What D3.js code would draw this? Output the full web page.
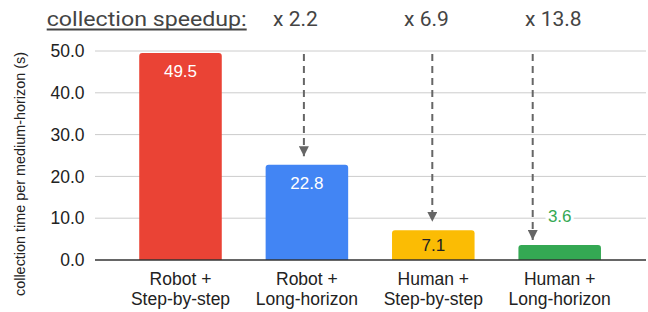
<!DOCTYPE html>
<html>
<head>
<meta charset="utf-8">
<script src="https://cdn.jsdelivr.net/npm/d3@7"></script>
<style>
  body { margin: 0; background: #fff; }
  svg { display: block; font-family: "Liberation Sans", Arial, sans-serif; }
</style>
</head>
<body>
<script>
/* chart data */
var categories = ["Robot +\nStep-by-step", "Robot +\nLong-horizon", "Human +\nStep-by-step", "Human +\nLong-horizon"];
var times = [49.5, 22.8, 7.1, 3.6];
var barColors = ["#EA4335", "#4285F4", "#FBBC04", "#34A853"];
var yTicks = [0, 10, 20, 30, 40, 50];
var speedups = ["x 2.2", "x 6.9", "x 13.8"];
var speedupTargets = [1, 2, 3];   // which bar each arrow points at

var width = 648, height = 312;

var svg = d3.select("body").append("svg")
    .attr("width", width)
    .attr("height", height);

/* scales */
var x = d3.scaleBand()
    .domain(categories)
    .range([117.3, 622.9])
    .paddingInner(0.347)
    .paddingOuter(0.1735);

var y = d3.scaleLinear()
    .domain([0, 50])
    .range([260, 51]);

/* gridlines */
svg.append("g")
    .selectAll("line")
    .data(yTicks.filter(function(d) { return d > 0; }))
    .enter().append("line")
    .attr("x1", 95).attr("x2", 646)
    .attr("y1", function(d) { return y(d); })
    .attr("y2", function(d) { return y(d); })
    .attr("stroke", "#cccccc")
    .attr("stroke-width", 1);

/* y axis labels */
var yAxis = d3.axisLeft(y).tickValues(yTicks).tickFormat(d3.format(".1f")).tickSize(0).tickPadding(0);
svg.append("g")
    .attr("transform", "translate(84.5,0)")
    .call(yAxis)
    .call(function(g) { g.select(".domain").remove(); })
    .selectAll("text")
    .attr("font-family", "Liberation Sans, Arial, sans-serif")
    .attr("font-size", 17.5)
    .attr("fill", "#222");

svg.append("text")
    .attr("transform", "translate(24.5,174) rotate(-90)")
    .attr("text-anchor", "middle")
    .attr("font-size", 14.4)
    .attr("fill", "#222")
    .text("collection time per medium-horizon (s)");

/* bars with rounded top corners */
function barPath(d, i) {
    var x0 = x(categories[i]), w = x.bandwidth(), y0 = y(d), y1 = y(0), r = 3;
    return "M" + x0 + "," + y1 +
        "V" + (y0 + r) + "Q" + x0 + "," + y0 + " " + (x0 + r) + "," + y0 +
        "H" + (x0 + w - r) + "Q" + (x0 + w) + "," + y0 + " " + (x0 + w) + "," + (y0 + r) +
        "V" + y1 + "Z";
}

svg.append("g")
    .selectAll("path")
    .data(times)
    .enter().append("path")
    .attr("d", barPath)
    .attr("fill", function(d, i) { return barColors[i]; });

/* baseline */
svg.append("line")
    .attr("x1", 95).attr("x2", 646)
    .attr("y1", y(0)).attr("y2", y(0))
    .attr("stroke", "#333")
    .attr("stroke-width", 1.5);

/* value labels: inside tall bars, above the short one */
svg.append("g")
    .selectAll("text")
    .data(times)
    .enter().append("text")
    .attr("x", function(d, i) { return x(categories[i]) + x.bandwidth() / 2; })
    .attr("y", function(d, i) {
        return i < 3 ? Math.min(y(d) + 24, (y(d) + y(0)) / 2 + 6) : y(d) - 23;
    })
    .attr("text-anchor", "middle")
    .attr("font-size", 17)
    .attr("fill", function(d, i) { return i < 2 ? "#ffffff" : (i === 2 ? "#222" : "#34A853"); })
    .attr("stroke", function(d, i) { return i === 3 ? "#fff" : "none"; })
    .attr("stroke-width", 6)
    .attr("paint-order", "stroke")
    .text(function(d) { return d.toFixed(1); });

/* category labels */
var cat = svg.append("g")
    .selectAll("text")
    .data(categories)
    .enter().append("text")
    .attr("x", function(d) { return x(d) + x.bandwidth() / 2; })
    .attr("text-anchor", "middle")
    .attr("font-size", 17.5)
    .attr("fill", "#222");
cat.each(function(d) {
    var lines = d.split("\n");
    d3.select(this).selectAll("tspan")
        .data(lines)
        .enter().append("tspan")
        .attr("x", x(d) + x.bandwidth() / 2)
        .attr("y", function(l, j) { return 284.7 + j * 20.6; })
        .text(function(l) { return l; });
});

/* dashed speedup arrows */
svg.append("defs").append("marker")
    .attr("id", "head")
    .attr("viewBox", "0 0 10 10")
    .attr("refX", 10).attr("refY", 5)
    .attr("markerWidth", 10).attr("markerHeight", 10)
    .attr("markerUnits", "userSpaceOnUse")
    .attr("orient", "auto")
    .append("path")
    .attr("d", "M0,0L10,5L0,10Z")
    .attr("fill", "#666");

var arrowShift = [-3, -1, -27];
var arrowGap = [8.5, 8.5, 5];
svg.append("g")
    .selectAll("line")
    .data(speedupTargets)
    .enter().append("line")
    .attr("x1", function(t, i) { return x(categories[t]) + x.bandwidth() / 2 + arrowShift[i]; })
    .attr("x2", function(t, i) { return x(categories[t]) + x.bandwidth() / 2 + arrowShift[i]; })
    .attr("y1", 54)
    .attr("y2", function(t, i) { return y(times[t]) - arrowGap[i]; })
    .attr("stroke", "#666")
    .attr("stroke-width", 2)
    .attr("stroke-dasharray", "7,5")
    .attr("marker-end", "url(#head)");

/* header texts */
svg.append("text")
    .attr("x", 46.7).attr("y", 26)
    .attr("font-family", "Roboto, sans-serif")
    .attr("font-size", 21)
    .attr("fill", "#444")
    .attr("textLength", 200)
    .attr("lengthAdjust", "spacingAndGlyphs")
    .text("collection speedup:");
svg.append("line")
    .attr("x1", 46.7).attr("x2", 246.7)
    .attr("y1", 29.5).attr("y2", 29.5)
    .attr("stroke", "#444")
    .attr("stroke-width", 2);

var speedupX = [273, 404, 525];
svg.append("g")
    .selectAll("text")
    .data(speedups)
    .enter().append("text")
    .attr("x", function(d, i) { return speedupX[i]; })
    .attr("y", 26)
    .attr("font-family", "Roboto, sans-serif")
    .attr("font-size", 21)
    .attr("fill", "#444")
    .text(function(d) { return d; });
</script>
</body>
</html>
